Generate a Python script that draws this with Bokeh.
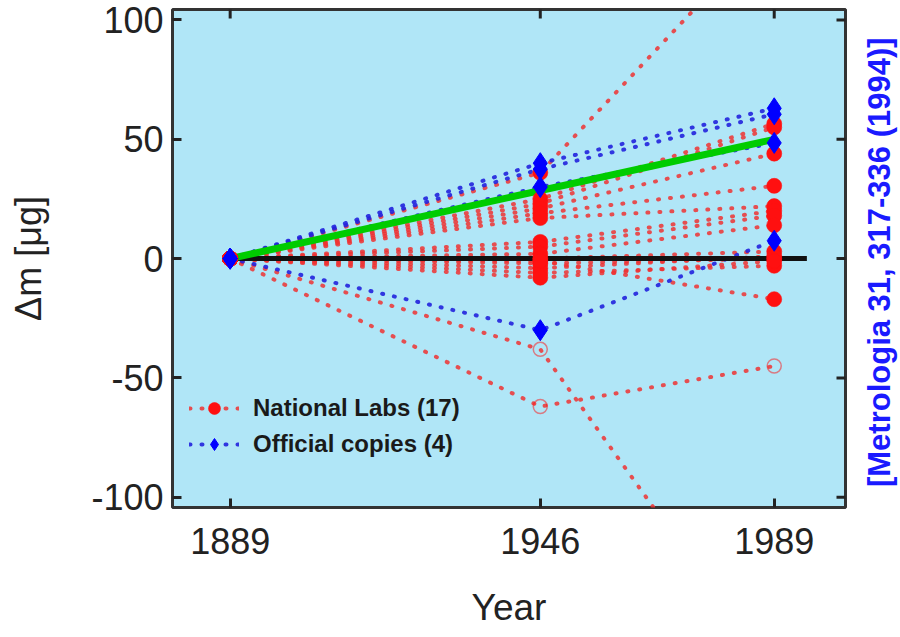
import math
from bokeh.plotting import figure
from bokeh.layouts import row
from bokeh.models import (FixedTicker, Legend, LegendItem, Label,
                          Range1d, ColumnDataSource)
from bokeh.embed import file_html
from bokeh.resources import INLINE

# ---------------- data ----------------
years = [1889, 1946, 1989]
year_labels = ["1889", "1946", "1989"]
y_ticks = [-100, -50, 0, 50, 100]
y_tick_labels = ["-100", "-50", "0", "50", "100"]

# National labs (17): change in mass relative to IPK [µg] at 1889, 1946, 1989
lab_1889 = [0] * 17
lab_1946 = [36, -38, -62, 25, 23, 21, 19, 17, 7, 5, 2, 0, -2, -4, -6, -8, -1]
lab_1989 = [140, -175, -45, 56.5, 55, 44, 30.5, 22, 20, 18, 14, 3, 0, 1, -3, -1, -17]
lab_open_1946 = [False, True, True] + [False] * 14
lab_open_1989 = [False, False, True] + [False] * 14

# Official copies (4)
copy_1889 = [0, 0, 0, 0]
copy_1946 = [40, 37.5, 30, -30]
copy_1989 = [63, 60.5, 48.5, 7.5]

# trend line and reference line
trend_years = [1889, 1989]
trend_values = [0, 50]
ref_years = [1889, 1995]
ref_values = [0, 0]

citation = "[Metrologia 31, 317-336 (1994)]"

X_MIN, X_MAX = 1878.4, 2002.1
Y_MIN, Y_MAX = -104.3, 104.4

# ---------------- styling ----------------
FONT = "Liberation Sans"
BG = "#B0E6F7"
RED_LINE = "#EE3333"
RED = "#FF1010"
BLUE_LINE = "#2222DD"
BLUE = "#0000FF"
TXT = "#222222"
TICK = "#222222"
H = 634

p = figure(width=852, height=H,
           x_range=Range1d(X_MIN, X_MAX), y_range=Range1d(Y_MIN, Y_MAX),
           output_backend="svg", toolbar_location=None,
           min_border_left=172, min_border_right=7,
           min_border_top=9, min_border_bottom=127,
           background_fill_color=BG, border_fill_color="white",
           outline_line_color="#333333", outline_line_width=3)
p.xgrid.visible = False
p.ygrid.visible = False

def style_axis(ax):
    ax.axis_line_color = None
    ax.major_tick_in = 9
    ax.major_tick_out = 0
    ax.major_tick_line_width = 3
    ax.major_tick_line_color = TICK
    ax.minor_tick_line_color = None
    ax.major_label_text_font = FONT
    ax.major_label_text_color = TXT
    ax.axis_label_text_font = FONT
    ax.axis_label_text_color = TXT
    ax.axis_label_text_font_style = "normal"

xa = p.xaxis[0]
xa.ticker = FixedTicker(ticks=years)
xa.major_label_overrides = {y: s for y, s in zip(years, year_labels)}
style_axis(xa)
xa.major_label_text_font_size = "36px"
xa.major_label_standoff = 20
xa.axis_label = "Year"
xa.axis_label_text_font_size = "37px"
xa.axis_label_standoff = 30

ya = p.yaxis[0]
ya.ticker = FixedTicker(ticks=y_ticks)
ya.major_label_overrides = {v: s for v, s in zip(y_ticks, y_tick_labels)}
style_axis(ya)
ya.major_label_text_font_size = "36px"
ya.major_label_standoff = 9
ya.axis_label = "Δm [μg]"
ya.axis_label_text_font_size = "36px"
ya.axis_label_standoff = 39

# inward ticks on the top and right frame edges (half of each dash is clipped)
p.scatter(years, [Y_MAX] * len(years), marker="dash", size=18, angle=math.pi / 2,
          line_color=TICK, line_width=3)
p.scatter([X_MAX] * len(y_ticks), y_ticks, marker="dash", size=18,
          line_color=TICK, line_width=3)

# ---------------- glyphs ----------------
lab_src = ColumnDataSource(dict(
    xs=[years for _ in lab_1946],
    ys=[[a, b, c] for a, b, c in zip(lab_1889, lab_1946, lab_1989)]))
copy_src = ColumnDataSource(dict(
    xs=[years for _ in copy_1946],
    ys=[[a, b, c] for a, b, c in zip(copy_1889, copy_1946, copy_1989)]))

DASH = "1 11"
red_ml = p.multi_line("xs", "ys", source=lab_src, line_color=RED_LINE,
                      line_width=4, line_dash=DASH, line_cap="round", line_alpha=0.85)
blue_ml = p.multi_line("xs", "ys", source=copy_src, line_color=BLUE_LINE,
                       line_width=4, line_dash=DASH, line_cap="round", line_alpha=0.9)

p.line(ref_years, ref_values, line_color="#111111", line_width=5)
p.line(trend_years, trend_values, line_color="#00CC00", line_width=7)

# lab markers
fx, fy, ox, oy = [], [], [], []
for v in lab_1889:
    fx.append(years[0]); fy.append(v)
for v, o in zip(lab_1946, lab_open_1946):
    (ox if o else fx).append(years[1]); (oy if o else fy).append(v)
for v, o in zip(lab_1989, lab_open_1989):
    (ox if o else fx).append(years[2]); (oy if o else fy).append(v)

red_sc = p.scatter(fx, fy, marker="circle", size=15, fill_color=RED,
                   line_color=RED, line_alpha=0.6)
p.scatter(ox, oy, marker="circle", size=14, fill_color=None,
          line_color=RED, line_alpha=0.5, line_width=1.5)

cx = [years[0]] * len(copy_1889) + [years[1]] * len(copy_1946) + [years[2]] * len(copy_1989)
cy = copy_1889 + copy_1946 + copy_1989
blue_sc = p.scatter(cx, cy, marker="diamond", size=21, fill_color=BLUE,
                    line_color=BLUE)

legend = Legend(items=[
    LegendItem(label="National Labs (17)", renderers=[red_ml, red_sc]),
    LegendItem(label="Official copies (4)", renderers=[blue_ml, blue_sc]),
], location=(17, 48), background_fill_alpha=0, border_line_color=None,
    label_text_font=FONT, label_text_font_size="24px",
    label_text_font_style="bold", label_text_color="#1a1a1a",
    glyph_width=50, glyph_height=30, label_height=30, spacing=6,
    padding=0, margin=0, label_standoff=14)
p.add_layout(legend)

# ---------------- citation strip on the right ----------------
side = figure(width=46, height=H, x_range=Range1d(0, 46),
              y_range=Range1d(Y_MIN, Y_MAX),
              output_backend="svg", toolbar_location=None,
              x_axis_type=None, y_axis_type=None,
              min_border_left=0, min_border_right=0,
              min_border_top=9, min_border_bottom=127,
              outline_line_color=None, background_fill_color="white",
              border_fill_color="white")
side.xgrid.visible = False
side.ygrid.visible = False
side.add_layout(Label(x=27, y=-1.5, text=citation, angle=math.pi / 2,
                      text_align="center", text_baseline="middle",
                      text_font=FONT, text_font_size="31px",
                      text_font_style="bold", text_color="#1a1aff"))

layout = row(p, side, spacing=0)
open("out.html", "w").write(file_html(layout, INLINE))
